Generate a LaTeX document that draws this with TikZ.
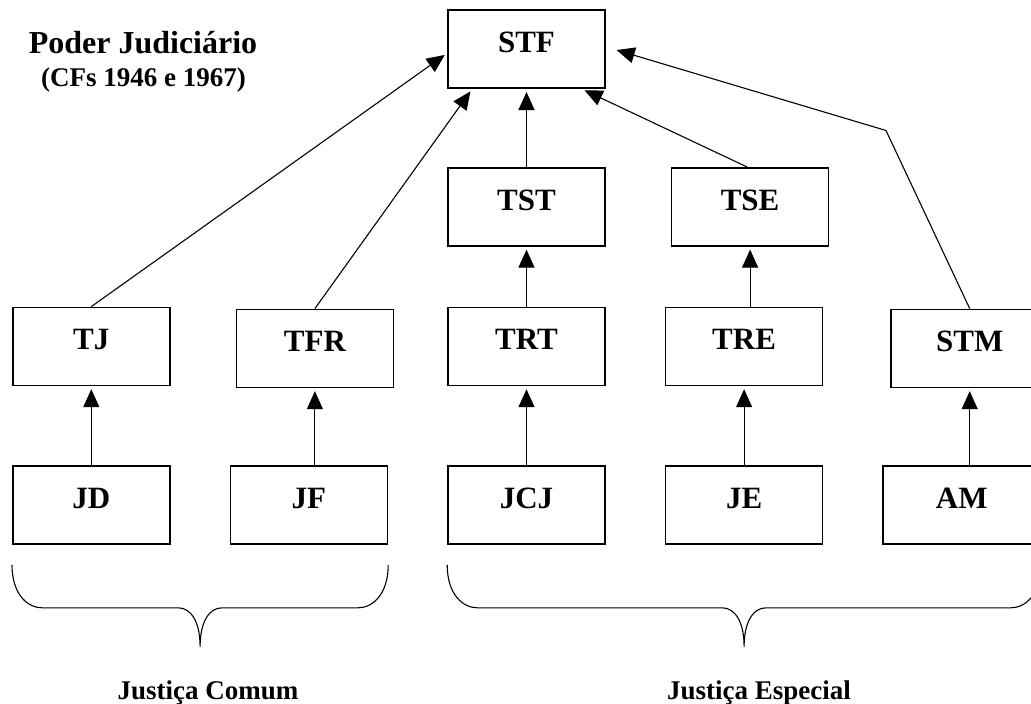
\documentclass[tikz,border=0pt]{standalone}
\usepackage{fontspec}
\setmainfont{Liberation Serif}
\usetikzlibrary{positioning, calc, arrows.meta}
% chave entre duas coordenadas na mesma altura
\newcommand{\chave}[2]{%
	\draw[linha] (#1) .. controls +(0,-30) and +(-14,0) .. ($(#1)+(30,-43)$)
		-- ($(#1)!0.5!(#2)+(-22,-43)$) .. controls +(13,0) and +(0,25) .. ($(#1)!0.5!(#2)+(0,-82)$)
		.. controls +(0,25) and +(-13,0) .. ($(#1)!0.5!(#2)+(22,-43)$)
		-- ($(#2)+(-30,-43)$) .. controls +(14,0) and +(0,-30) .. (#2);}

\begin{document}
\begin{tikzpicture}[x=1pt, y=1pt, node distance=79pt and 59pt,
	caixa/.style={draw, line width=1.6pt, minimum width=157pt, minimum height=78pt, inner sep=0pt,
		text height=22pt, text depth=15pt, font=\fontsize{31}{31}\selectfont\bfseries},
	seta/.style={line width=1.1pt, -{Triangle[length=18pt, width=16pt]}, shorten >=3pt},
	linha/.style={line width=1.1pt},
	rotulo/.style={font=\fontsize{27}{27}\selectfont\bfseries}]
	\useasboundingbox (0,0) rectangle (1031,-704);
	\clip (0,0) rectangle (1031,-704);
	
	\node[anchor=base, font=\fontsize{32}{32}\selectfont\bfseries] (titulo) at (143,-53) {Poder Judiciário};
	\node[rotulo, anchor=base] (subtitulo) at (143.5,-86) {(CFs 1946 e 1967)};
	
	\node[caixa] (JD) at (91.3,-505) {JD};
	\node[caixa, right=of JD] (JF) {JF};
	\node[caixa, right=of JF] (JCJ) {JCJ};
	\node[caixa, right=of JCJ] (JE) {JE};
	\node[caixa, right=of JE] (AM) {AM};
	
	\node[caixa, above=of JD] (TJ) {TJ};
	\node[caixa, above=of JF, xshift=6pt, yshift=-2pt] (TFR) {TFR};
	\node[caixa, above=of JCJ] (TRT) {TRT};
	\node[caixa, above=of JE] (TRE) {TRE};
	\node[caixa, above=of AM, xshift=8pt, yshift=-2pt] (STM) {STM};
	
	\node[caixa, above=60pt of TRT] (TST) {TST};
	\node[caixa, above=60pt of TRE, xshift=6pt] (TSE) {TSE};
	\node[caixa, above=78pt of TST] (STF) {STF};
	
	\coordinate (dobra) at (886,-130.5);
	
	\draw[seta] (TJ |- JD.north) -- (TJ.south);
	\draw[seta] (TFR |- JF.north) -- (TFR.south);
	\draw[seta] (TRT |- JCJ.north) -- (TRT.south);
	\draw[seta] (TRE |- JE.north) -- (TRE.south);
	\draw[seta] (STM |- AM.north) -- (STM.south);
	\draw[seta] (TST |- TRT.north) -- (TST.south);
	\draw[seta] (TSE |- TRE.north) -- (TSE.south);
	
	\draw[seta] (TJ.north) -- ([yshift=-4pt]STF.west);
	\draw[seta] (TFR.north) -- ([xshift=25pt]STF.south west);
	\draw[seta] (TST.north) -- (STF.south);
	\draw[seta] ([xshift=-3pt]TSE.north) -- ([xshift=-24pt]STF.south east);
	\draw[seta] (STM.north) -- (dobra) -- ([xshift=8pt]STF.east);
	
	\coordinate (comumA) at ([yshift=-20pt]JD.south west);
	\coordinate (comumB) at ([yshift=-20pt]JF.south east);
	\coordinate (especialA) at ([yshift=-20pt]JCJ.south west);
	\coordinate (especialB) at ([yshift=-20pt]AM.south east);
	\chave{comumA}{comumB}
	\chave{especialA}{especialB}
	
	\node[rotulo, anchor=base] (comum) at (208,-699) {Justiça Comum};
	\node[rotulo, anchor=base] (especial) at (759,-699) {Justiça Especial};
\end{tikzpicture}
\end{document}
